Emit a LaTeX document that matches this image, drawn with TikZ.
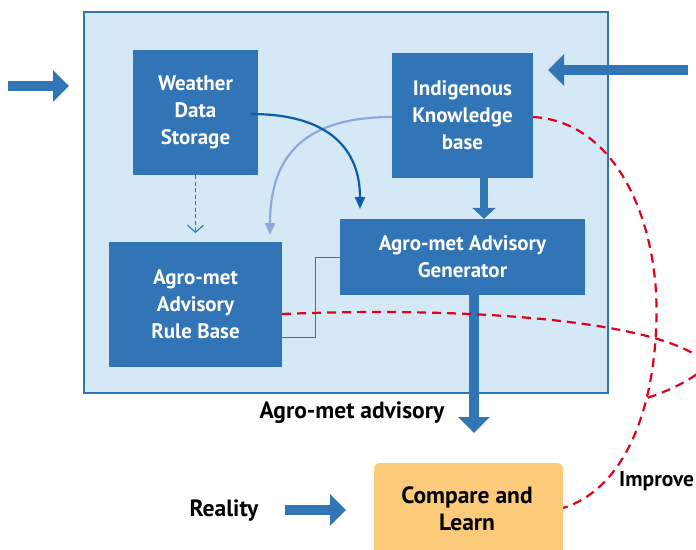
\documentclass[tikz,border=0pt]{standalone}
\usepackage{fontspec}
\setmainfont{PT Sans}
\usetikzlibrary{arrows.meta}
\definecolor{boxblue}{HTML}{3175B6}
\definecolor{bgblue}{HTML}{D5E8F6}
\definecolor{edgeblue}{HTML}{2E75B6}
\definecolor{darkcurve}{HTML}{0B5DA8}
\definecolor{lightcurve}{HTML}{8FA9DA}
\definecolor{redline}{HTML}{E2001A}
\definecolor{orangebox}{HTML}{FBCB7A}
\tikzset{
  bluebox/.style={fill=boxblue, text=white, align=center, inner sep=0pt,
    font=\bfseries\fontsize{21}{27}\selectfont},
  bigarrow/.style={draw=boxblue, line width=10pt, -{Triangle[width=31pt,length=16pt]}},
  midarrow/.style={draw=boxblue, line width=8pt, -{Triangle[width=23pt,length=11pt]}},
  reddash/.style={draw=redline, line width=2.2pt, dash pattern=on 9pt off 6pt},
  lbl/.style={text=black, font=\bfseries\fontsize{23.5}{27}\selectfont, inner sep=0pt},
}
\begin{document}
\begin{tikzpicture}[x=1pt,y=-1pt]
\useasboundingbox (0,0) rectangle (696,549);
% outer panel
\node[draw=edgeblue, fill=bgblue, line width=1.2pt, minimum width=524pt, minimum height=381pt, inner sep=0pt] (panel) at (346,202.5) {};
% boxes
\node[bluebox, minimum width=125pt, minimum height=125pt] (wds) at (195.5,112.5) {Weather\\Data\\Storage};
\node[bluebox, minimum width=141pt, minimum height=125pt] (ikb) at (462.5,115.5) {Indigenous\\Knowledge\\base};
\node[bluebox, minimum width=245pt, minimum height=76pt] (gen) at (462.5,257) {Agro-met Advisory\\Generator};
\node[bluebox, minimum width=173pt, minimum height=125pt] (rule) at (195.5,304.5) {Agro-met\\Advisory\\Rule Base};
\node[fill=orangebox, rounded corners=6pt, minimum width=189pt, minimum height=100pt, inner sep=0pt] (cmpbox) at (468.5,513) {};
\node[lbl, align=center] (cmp) at (467,508.5) {Compare and\\Learn};
% labels
\node[lbl] (adv) at (352,413) {Agro-met advisory};
\node[lbl] (real) at (224,511) {Reality};
\node[lbl, anchor=west, font=\bfseries\fontsize{21.5}{27}\selectfont] (impr) at (619,481) {Improve};
% coordinates
\coordinate (lstart) at (8,86);
\coordinate (lend) at (69,86);
\coordinate (rstart) at (688,70);
\coordinate (rend) at (548,70);
\coordinate (ikx) at (484,0);
\coordinate (advx) at (474,433);
\coordinate (realstart) at (285,510);
\coordinate (realend) at (346,510);
\coordinate (dashend) at (195.5,233);
\coordinate (jx) at (315,0);
\coordinate (loopend) at (647,398);
% block arrows
\draw[bigarrow] (lstart) -- (lend);
\draw[bigarrow] (rstart) -- (rend);
\draw[bigarrow] (realstart) -- (realend);
\draw[midarrow] (ikb.south -| ikx) -- (gen.north -| ikx);
\draw[bigarrow] (gen.south -| advx) -- (advx);
% dashed thin arrow
\draw[draw=edgeblue, line width=1.2pt, dash pattern=on 4pt off 2.5pt, -{Straight Barb[width=16pt,length=7pt,line width=1.1pt]}] (wds.south) -- (dashend);
% thin connector gen -> rule
\draw[draw=edgeblue, line width=1pt] (gen.west) -- (gen.west -| jx) |- (rule.east |- 0,337);
% curves
\draw[draw=lightcurve, line width=2.2pt, -{Triangle[width=10pt,length=12pt]}] (ikb.west |- 0,117) .. controls (300,117) and (270,160) .. (270,235);
\draw[draw=darkcurve, line width=2.2pt, -{Triangle[width=10pt,length=12pt]}] (251,114) .. controls (330,114) and (360,150) .. (360,209);
% red dashed curves
\draw[reddash] (ikb.east |- 0,117) .. controls (620,122) and (662,230) .. (656,330) .. controls (652,420) and (620,490) .. (cmpbox.east |- 0,508);
\draw[reddash] (rule.east |- 0,314) .. controls (480,306) and (670,322) .. (708,365) .. controls (690,382) and (665,392) .. (loopend);
\end{tikzpicture}
\end{document}
